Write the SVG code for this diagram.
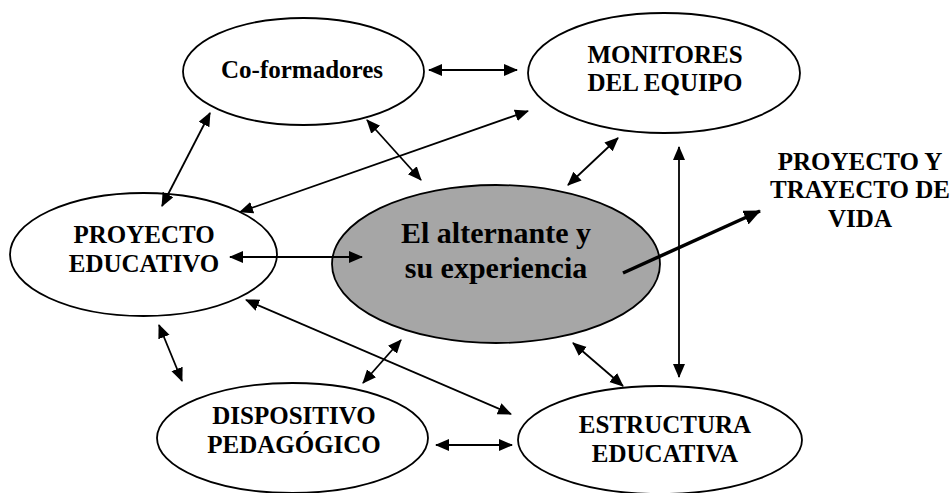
<svg xmlns="http://www.w3.org/2000/svg" width="951" height="493" viewBox="0 0 951 493">
<style>
.node ellipse{fill:#fff;stroke:#000;stroke-width:1.8}
#center ellipse{fill:#a6a6a6}
text{font-weight:bold;fill:#000;text-anchor:middle}
.t{font-size:25px}
.tc{font-size:30px}
#connectors line{stroke:#000;stroke-width:1.8;fill:none}
#connectors line.thick{stroke-width:3.5}
</style>
<defs>
<marker id="ah" markerUnits="userSpaceOnUse" markerWidth="16" markerHeight="14" refX="13" refY="6" orient="auto-start-reverse">
<path d="M0,0 L14,6 L0,12 z" fill="#000"/>
</marker>
<marker id="ahb" markerUnits="userSpaceOnUse" markerWidth="20" markerHeight="18" refX="16" refY="7.5" orient="auto">
<path d="M0,0 L17,7.5 L0,15 z" fill="#000"/>
</marker>
</defs>
<rect width="951" height="493" fill="#fff"/>
<g font-family="'Liberation Serif', 'Noto Serif', 'DejaVu Serif', serif">
<g id="coformadores" class="node">
<ellipse cx="303.5" cy="71.5" rx="120.5" ry="53.5"/>
<text class="t" x="302" y="78">Co-formadores</text>
</g>
<g id="monitores" class="node">
<ellipse cx="664" cy="73" rx="136" ry="60"/>
<text class="t" x="665" y="63">MONITORES</text>
<text class="t" x="665" y="91">DEL EQUIPO</text>
</g>
<g id="proyecto" class="node">
<ellipse cx="143.5" cy="254.5" rx="133.5" ry="61.5"/>
<text class="t" x="144" y="243">PROYECTO</text>
<text class="t" x="144" y="272">EDUCATIVO</text>
</g>
<g id="center" class="node">
<ellipse cx="496" cy="264" rx="164" ry="79"/>
<text class="tc" x="496" y="243">El alternante y</text>
<text class="tc" x="496" y="278">su experiencia</text>
</g>
<g id="dispositivo" class="node">
<ellipse cx="292.5" cy="438" rx="135.5" ry="55"/>
<text class="t" x="294" y="424">DISPOSITIVO</text>
<text class="t" x="294" y="453">PEDAGÓGICO</text>
</g>
<g id="estructura" class="node">
<ellipse cx="660" cy="440" rx="142" ry="54"/>
<text class="t" x="665" y="433">ESTRUCTURA</text>
<text class="t" x="665" y="462">EDUCATIVA</text>
</g>
<g id="vida">
<text class="t" x="860" y="170">PROYECTO Y</text>
<text class="t" x="860" y="198">TRAYECTO DE</text>
<text class="t" x="860" y="227">VIDA</text>
</g>
</g>
<g id="connectors">
<line x1="429" y1="70" x2="517" y2="70" marker-start="url(#ah)" marker-end="url(#ah)"/>
<line x1="162" y1="206" x2="210" y2="113" marker-start="url(#ah)" marker-end="url(#ah)"/>
<line x1="367" y1="120" x2="421" y2="180" marker-start="url(#ah)" marker-end="url(#ah)"/>
<line x1="240" y1="212" x2="528" y2="111" marker-start="url(#ah)" marker-end="url(#ah)"/>
<line x1="230" y1="257" x2="362" y2="257" marker-start="url(#ah)" marker-end="url(#ah)"/>
<line x1="246" y1="300" x2="511" y2="414" marker-start="url(#ah)" marker-end="url(#ah)"/>
<line x1="159" y1="325" x2="182" y2="381" marker-start="url(#ah)" marker-end="url(#ah)"/>
<line x1="363" y1="383" x2="401" y2="340" marker-start="url(#ah)" marker-end="url(#ah)"/>
<line x1="436" y1="445" x2="512" y2="445" marker-start="url(#ah)" marker-end="url(#ah)"/>
<line x1="573" y1="343" x2="623" y2="386" marker-start="url(#ah)" marker-end="url(#ah)"/>
<line x1="618" y1="138" x2="568" y2="185" marker-start="url(#ah)" marker-end="url(#ah)"/>
<line x1="679" y1="147" x2="679" y2="377" marker-start="url(#ah)" marker-end="url(#ah)"/>
<line class="thick" x1="623" y1="273" x2="760" y2="211" marker-end="url(#ahb)"/>
</g>
</svg>
